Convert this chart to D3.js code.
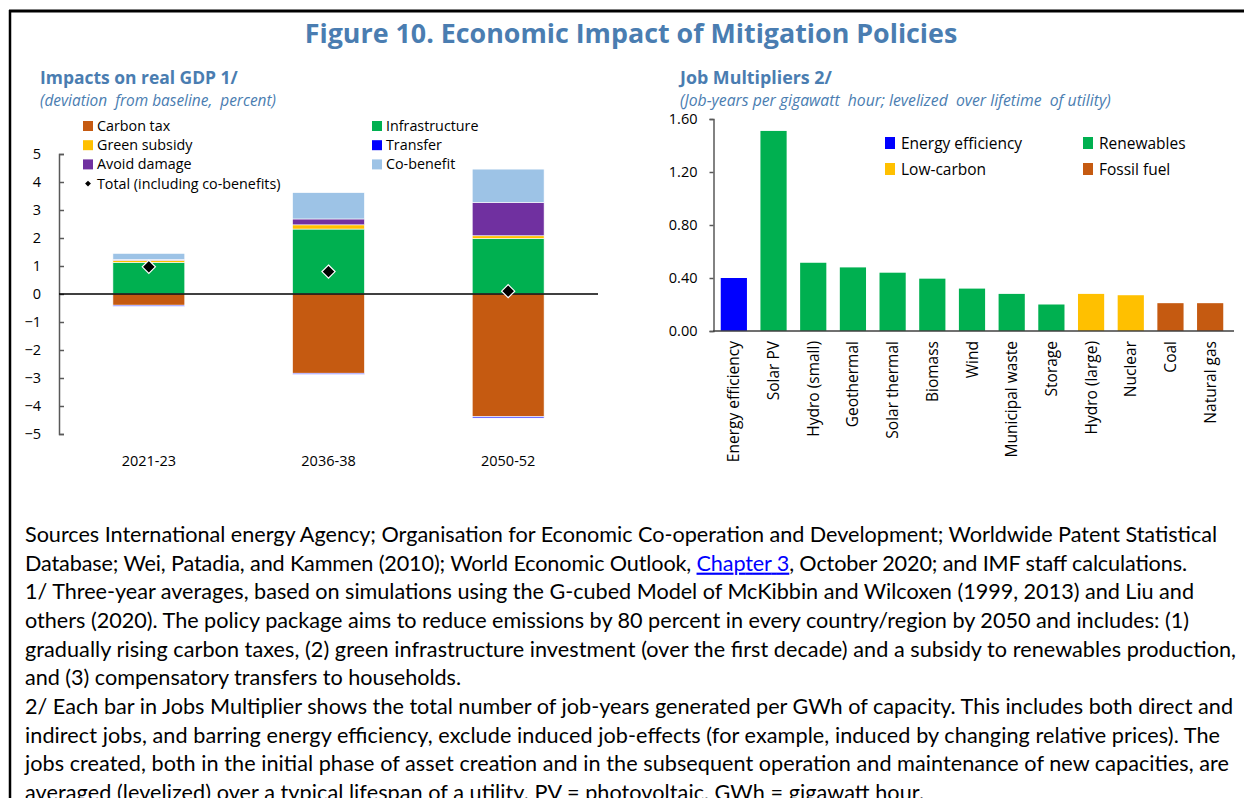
<!DOCTYPE html>
<html>
<head>
<meta charset="utf-8">
<script src="https://cdn.jsdelivr.net/npm/d3@7"></script>
<style>
  body { margin: 0; background: #fff; }
  svg text { font-family: "Open Sans", "Noto Sans", sans-serif; }
</style>
</head>
<body>
<svg id="chart"></svg>
<script>
// ---- data: left panel (real GDP impacts, % deviation from baseline)
const periods = ["2021-23", "2036-38", "2050-52"];
const carbonTax = [-0.40, -2.83, -4.38];
const greenSubsidy = [0.07, 0.15, 0.10];
const avoidDamage = [0.03, 0.21, 1.19];
const infrastructure = [1.13, 2.32, 1.98];
const transfer = [-0.04, -0.04, -0.05];
const coBenefit = [0.22, 0.94, 1.19];
const totalInclCoBenefits = [0.97, 0.80, 0.10];
const gdpTicks = [-5, -4, -3, -2, -1, 0, 1, 2, 3, 4, 5];

// ---- data: right panel (job multipliers)
const technologies = ["Energy efficiency", "Solar PV", "Hydro (small)", "Geothermal", "Solar thermal",
  "Biomass", "Wind", "Municipal waste", "Storage", "Hydro (large)", "Nuclear", "Coal", "Natural gas"];
const jobYears = [0.40, 1.51, 0.515, 0.48, 0.44, 0.395, 0.32, 0.28, 0.20, 0.28, 0.27, 0.21, 0.21];
const techGroup = ["Energy efficiency", "Renewables", "Renewables", "Renewables", "Renewables",
  "Renewables", "Renewables", "Renewables", "Renewables", "Low-carbon", "Low-carbon", "Fossil fuel", "Fossil fuel"];
const jobTicks = [0, 0.4, 0.8, 1.2, 1.6];

const footLines = [
  "Sources International energy Agency; Organisation for Economic Co-operation and Development; Worldwide Patent Statistical",
  "Database; Wei, Patadia, and Kammen (2010); World Economic Outlook, |Chapter 3|, October 2020; and IMF staff calculations.",
  "1/ Three-year averages, based on simulations using the G-cubed Model of McKibbin and Wilcoxen (1999, 2013) and Liu and",
  "others (2020). The policy package aims to reduce emissions by 80 percent in every country/region by 2050 and includes: (1)",
  "gradually rising carbon taxes, (2) green infrastructure investment (over the first decade) and a subsidy to renewables production,",
  "and (3) compensatory transfers to households.",
  "2/ Each bar in Jobs Multiplier shows the total number of job-years generated per GWh of capacity. This includes both direct and",
  "indirect jobs, and barring energy efficiency, exclude induced job-effects (for example, induced by changing relative prices). The",
  "jobs created, both in the initial phase of asset creation and in the subsequent operation and maintenance of new capacities, are",
  "averaged (levelized) over a typical lifespan of a utility. PV = photovoltaic, GWh = gigawatt hour."
];
// right end of each note line
const footLineEnds = [1217, 1187, 1194, 1189, 1236, 461, 1233, 1220, 1229, 924];

const blue = "#4a7db1";
const width = 1244, height = 798;

const svg = d3.select("#chart").attr("width", width).attr("height", height);

// scale a text's font so it takes a given width
function fitText(sel, target) {
  const w = sel.node().getComputedTextLength();
  const fs = parseFloat(sel.style("font-size"));
  sel.style("font-size", (fs * target / w) + "px");
}

// frame
svg.append("line").attr("x1", 9).attr("x2", width).attr("y1", 11).attr("y2", 11)
  .attr("stroke", "#000").attr("stroke-width", 3);
svg.append("line").attr("x1", 10).attr("x2", 10).attr("y1", 10).attr("y2", height)
  .attr("stroke", "#000").attr("stroke-width", 2.5);

const title = svg.append("text").attr("x", 631).attr("y", 43).attr("text-anchor", "middle")
  .style("font-size", "26px").style("font-weight", "bold").attr("fill", blue)
  .text("Figure 10. Economic Impact of Mitigation Policies");
fitText(title, 653);

// panel headings
function heading(x, t1, w1, t2, w2) {
  const a = svg.append("text").attr("x", x).attr("y", 84).style("font-size", "16px")
    .style("font-weight", "bold").attr("fill", blue).text(t1);
  fitText(a, w1);
  const b = svg.append("text").attr("x", x).attr("y", 106).style("font-size", "14px")
    .style("font-style", "italic").attr("fill", blue).attr("xml:space", "preserve").text(t2);
  fitText(b, w2);
}
heading(40, "Impacts on real GDP 1/", 198, "(deviation  from baseline,  percent)", 236);
heading(680, "Job Multipliers 2/", 152, "(Job-years per gigawatt  hour; levelized  over lifetime  of utility)", 431);

// ================= left panel =================
const gdpColors = {
  "Carbon tax": "#c55a11", "Green subsidy": "#ffc000", "Avoid damage": "#7030a0",
  "Infrastructure": "#00b050", "Transfer": "#3f3fff", "Co-benefit": "#9dc3e6"
};
const rows = periods.map((p, i) => ({
  period: p,
  "Infrastructure": infrastructure[i], "Green subsidy": greenSubsidy[i],
  "Avoid damage": avoidDamage[i], "Co-benefit": coBenefit[i],
  "Carbon tax": carbonTax[i], "Transfer": transfer[i]
}));
const keys = ["Infrastructure", "Green subsidy", "Avoid damage", "Co-benefit", "Carbon tax", "Transfer"];
const stacked = d3.stack().keys(keys).offset(d3.stackOffsetDiverging)(rows);

const x1 = d3.scaleBand().domain(periods).range([59, 598]).paddingInner(0.6).paddingOuter(0.3);
const y1 = d3.scaleLinear().domain([-5, 5]).range([434, 154]);

svg.selectAll(".gdp-layer").data(stacked).enter().append("g")
  .attr("fill", d => gdpColors[d.key])
  .selectAll("rect").data(d => d).enter().append("rect")
  .attr("x", d => x1(d.data.period))
  .attr("width", x1.bandwidth())
  .attr("y", d => y1(d[1]))
  .attr("height", d => Math.max(0, y1(d[0]) - y1(d[1])))
  .attr("stroke", "#fff").attr("stroke-width", 0.6);

const yAxis1 = svg.append("g").attr("transform", "translate(59,0)")
  .call(d3.axisLeft(y1).tickValues(gdpTicks).tickSizeInner(-5).tickSizeOuter(-5).tickPadding(18));
yAxis1.selectAll("path, line").attr("stroke", "#595959").attr("stroke-width", 1.5);
yAxis1.selectAll("text").style("font-size", "14.5px").attr("fill", "#000");

svg.append("line").attr("x1", 59).attr("x2", 598).attr("y1", y1(0)).attr("y2", y1(0))
  .attr("stroke", "#000").attr("stroke-width", 1.3);

// totals (diamonds)
svg.selectAll(".total").data(totalInclCoBenefits).enter().append("path")
  .attr("d", d3.symbol(d3.symbolDiamond2, 110))
  .attr("transform", (d, i) => `translate(${x1(periods[i]) + x1.bandwidth() / 2},${y1(d)})`)
  .attr("fill", "#000").attr("stroke", "#fff").attr("stroke-width", 1.2);

const xAxis1 = svg.append("g").attr("transform", "translate(0,448)")
  .call(d3.axisBottom(x1).tickSize(0).tickPadding(8));
xAxis1.select(".domain").remove();
xAxis1.selectAll("text").style("font-size", "14.5px").attr("fill", "#000");

// left legend
const gdpLegend = [
  { name: "Carbon tax", col: 0, row: 0 }, { name: "Green subsidy", col: 0, row: 1 },
  { name: "Avoid damage", col: 0, row: 2 }, { name: "Total (including co-benefits)", col: 0, row: 3 },
  { name: "Infrastructure", col: 1, row: 0 }, { name: "Transfer", col: 1, row: 1 },
  { name: "Co-benefit", col: 1, row: 2 }
];
const lg1 = svg.selectAll(".lg1").data(gdpLegend).enter().append("g")
  .attr("transform", d => `translate(${d.col ? 372 : 83},${126 + d.row * 19.2})`);
lg1.each(function (d) {
  const g = d3.select(this);
  if (gdpColors[d.name]) {
    g.append("rect").attr("x", 0).attr("y", -5).attr("width", 10).attr("height", 10)
      .attr("fill", d.name === "Transfer" ? "#0000ff" : gdpColors[d.name]);
  } else {
    g.append("path").attr("d", d3.symbol(d3.symbolDiamond2, 22)).attr("transform", "translate(5,0)")
      .attr("fill", "#000");
  }
  g.append("text").attr("x", 14).attr("y", 5).style("font-size", "14.3px").attr("fill", "#000").text(d.name);
});

// ================= right panel =================
const groupColors = {
  "Energy efficiency": "#0000ff", "Renewables": "#00b050",
  "Low-carbon": "#ffc000", "Fossil fuel": "#c55a11"
};
const x2 = d3.scaleBand().domain(technologies).range([714, 1230]).paddingInner(0.34).paddingOuter(0.17);
const y2 = d3.scaleLinear().domain([0, 1.6]).range([331, 119]);

svg.selectAll(".job").data(technologies).enter().append("rect")
  .attr("x", d => x2(d)).attr("width", x2.bandwidth())
  .attr("y", (d, i) => y2(jobYears[i]))
  .attr("height", (d, i) => y2(0) - y2(jobYears[i]))
  .attr("fill", (d, i) => groupColors[techGroup[i]]);

const yAxis2 = svg.append("g").attr("transform", "translate(713.5,0)")
  .call(d3.axisLeft(y2).tickValues(jobTicks).tickFormat(d3.format(".2f"))
    .tickSizeInner(4).tickSizeOuter(4).tickPadding(12));
yAxis2.selectAll("path, line").attr("stroke", "#595959").attr("stroke-width", 1.5);
yAxis2.selectAll("text").style("font-size", "14.5px").attr("fill", "#000");

svg.append("line").attr("x1", 713).attr("x2", 1234).attr("y1", y2(0)).attr("y2", y2(0))
  .attr("stroke", "#404040").attr("stroke-width", 1.5);

svg.selectAll(".tech-label").data(technologies).enter().append("text")
  .attr("transform", d => `translate(${x2(d) + x2.bandwidth() / 2 + 5.5},341) rotate(-90)`)
  .attr("text-anchor", "end").style("font-size", "15.5px").attr("fill", "#000")
  .text(d => d);

// right legend
const jobLegend = [
  { name: "Energy efficiency", x: 885, y: 143 }, { name: "Renewables", x: 1083, y: 143 },
  { name: "Low-carbon", x: 885, y: 169 }, { name: "Fossil fuel", x: 1083, y: 169 }
];
const lg2 = svg.selectAll(".lg2").data(jobLegend).enter().append("g")
  .attr("transform", d => `translate(${d.x},${d.y})`);
lg2.append("rect").attr("x", 0).attr("y", -6).attr("width", 10).attr("height", 12)
  .attr("fill", d => groupColors[d.name]);
lg2.append("text").attr("x", 16).attr("y", 5.5).style("font-size", "15.5px").attr("fill", "#000")
  .text(d => d.name);

// ================= footnotes =================
const footX = 25;
const foot = svg.append("g").attr("class", "foot");
footLines.forEach((line, i) => {
  const t = foot.append("text").attr("x", footX).attr("y", 542 + i * 28.65)
    .style("font-family", "Lato, 'Open Sans', sans-serif").style("font-size", "20px").attr("fill", "#000");
  line.split("|").forEach((part, j) => {
    const s = t.append("tspan").text(part);
    if (j === 1) s.attr("fill", "#0000ff").style("text-decoration", "underline");
  });
});
// one font size for all notes, then a little spacing per line to land on the original line ends
const natural = foot.selectAll("text").nodes().map(n => n.getComputedTextLength());
const ratio = d3.mean(natural, (w, i) => (footLineEnds[i] - footX) / w);
foot.selectAll("text").style("font-size", (20 * ratio) + "px")
  .attr("textLength", (d, i) => footLineEnds[i] - footX)
  .attr("lengthAdjust", "spacing");
</script>
</body>
</html>
